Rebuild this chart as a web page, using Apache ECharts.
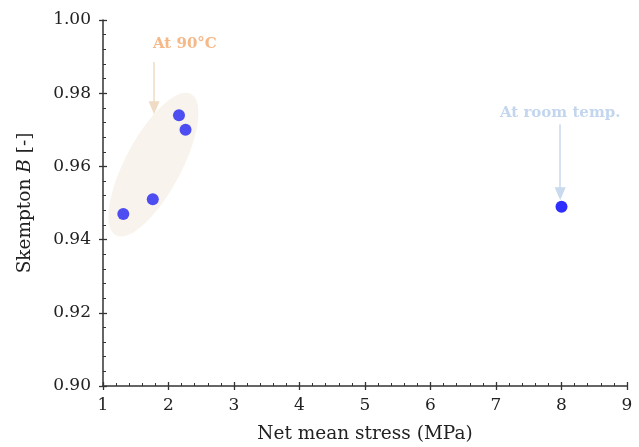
<!DOCTYPE html>
<html><head><meta charset="utf-8">
<script src="https://cdn.jsdelivr.net/npm/echarts@6/dist/echarts.min.js"></script>
<style>html,body{margin:0;padding:0;background:#fff}#c{width:639px;height:447px}</style>
</head><body><div id="c"></div>
<script>
// Data
const hotStress = [1.31, 1.76, 2.16, 2.26];
const hotB = [0.947, 0.951, 0.974, 0.970];
const roomStress = [8.00];
const roomB = [0.949];
const xTicks = [1, 2, 3, 4, 5, 6, 7, 8, 9];
const yTicks = [0.90, 0.92, 0.94, 0.96, 0.98, 1.00];
// annotation anchors (data coords)
const hotLabel = {text: 'At 90°C', x: 2.25, y: 0.9935};
const hotArrow = [[1.78, 0.9885], [1.78, 0.976]];
const roomLabel = {text: 'At room temp.', x: 7.98, y: 0.9745};
const roomArrow = [[7.98, 0.9715], [7.98, 0.9525]];
const ellipse = {x: 1.77, y: 0.9605, rx: 28, ry: 80, angleDeg: 28};

const serif = '"DejaVu Serif", "Liberation Serif", serif';
const chart = echarts.init(document.getElementById('c'));
function xAxis(main) {
  return {
    type: 'value', min: xTicks[0], max: xTicks[xTicks.length - 1], interval: 1, position: 'bottom',
    name: main ? 'Net mean stress (MPa)' : '', nameLocation: 'middle', nameGap: 39,
    nameTextStyle: {fontFamily: serif, fontSize: 18.5, color: '#222'},
    axisLine: {show: main, lineStyle: {color: '#333', width: 1.5}},
    splitLine: {show: false},
    axisTick: {show: true, inside: main, length: 4, lineStyle: {color: '#333', width: 1.3}},
    minorTick: {show: main, splitNumber: 5, length: 3, lineStyle: {color: '#333', width: 1}},
    axisLabel: {show: main, fontFamily: serif, fontSize: 17, color: '#222', margin: 11},
  };
}
function yAxis(main) {
  return {
    type: 'value', min: yTicks[0], max: yTicks[yTicks.length - 1], interval: 0.02, position: 'left',
    name: main ? '{a|Skempton }{b|B}{a| [-]}' : '', nameLocation: 'middle', nameGap: 68,
    nameTextStyle: {rich: {a: {fontFamily: serif, fontSize: 18.5, color: '#222'}, b: {fontFamily: serif, fontSize: 18.5, fontStyle: 'italic', color: '#222'}}},
    axisLine: {show: main, lineStyle: {color: '#333', width: 1.5}},
    splitLine: {show: false},
    axisTick: {show: true, inside: main, length: 4, lineStyle: {color: '#333', width: 1.3}},
    minorTick: {show: main, splitNumber: 5, length: 3, lineStyle: {color: '#333', width: 1}},
    axisLabel: {show: main, fontFamily: serif, fontSize: 17, color: '#222', margin: 12, formatter: v => v.toFixed(2)},
  };
}
chart.setOption({
  animation: false,
  grid: {left: 103, right: 12, top: 20, bottom: 61, containLabel: false, outerBoundsMode: 'none'},
  xAxis: [xAxis(true), xAxis(false)],
  yAxis: [yAxis(true), yAxis(false)],
  series: [
    {type: 'scatter', data: hotStress.map((x, i) => [x, hotB[i]]), symbolSize: 12, itemStyle: {color: '#4d4df2', opacity: 1}, z: 5},
    {type: 'scatter', data: roomStress.map((x, i) => [x, roomB[i]]), symbolSize: 12, itemStyle: {color: '#2e2eff', opacity: 1}, z: 5},
    {type: 'line', data: [], markLine: {silent: true, symbol: ['none', 'triangle'], symbolSize: [11, 13],
      label: {show: false},
      data: [
        [{coord: hotArrow[0], lineStyle: {color: '#f0dcc4', width: 1.5, type: 'solid'}, itemStyle: {color: '#f0dcc4'}}, {coord: hotArrow[1]}],
        [{coord: roomArrow[0], lineStyle: {color: '#c9d9ee', width: 1.5, type: 'solid'}, itemStyle: {color: '#c9d9ee'}}, {coord: roomArrow[1]}]
      ]}}
  ]
});
function drawGraphics() {
  const c = chart.convertToPixel({gridIndex: 0}, [ellipse.x, ellipse.y]);
  const hl = chart.convertToPixel({gridIndex: 0}, [hotLabel.x, hotLabel.y]);
  const rl = chart.convertToPixel({gridIndex: 0}, [roomLabel.x, roomLabel.y]);
  chart.setOption({graphic: [
    {type: 'ellipse', x: c[0], y: c[1], rotation: -ellipse.angleDeg * Math.PI / 180, shape: {cx: 0, cy: 0, rx: ellipse.rx, ry: ellipse.ry}, style: {fill: '#f8f3ec'}, z: 1},
    {type: 'text', x: hl[0], y: hl[1], style: {text: hotLabel.text, fill: '#f5b888', font: 'bold 15px ' + serif, align: 'center', verticalAlign: 'middle'}, z: 10},
    {type: 'text', x: rl[0], y: rl[1], style: {text: roomLabel.text, fill: '#c3d6ee', font: 'bold 15px ' + serif, align: 'center', verticalAlign: 'middle'}, z: 10}
  ]});
}
drawGraphics();
</script></body></html>
